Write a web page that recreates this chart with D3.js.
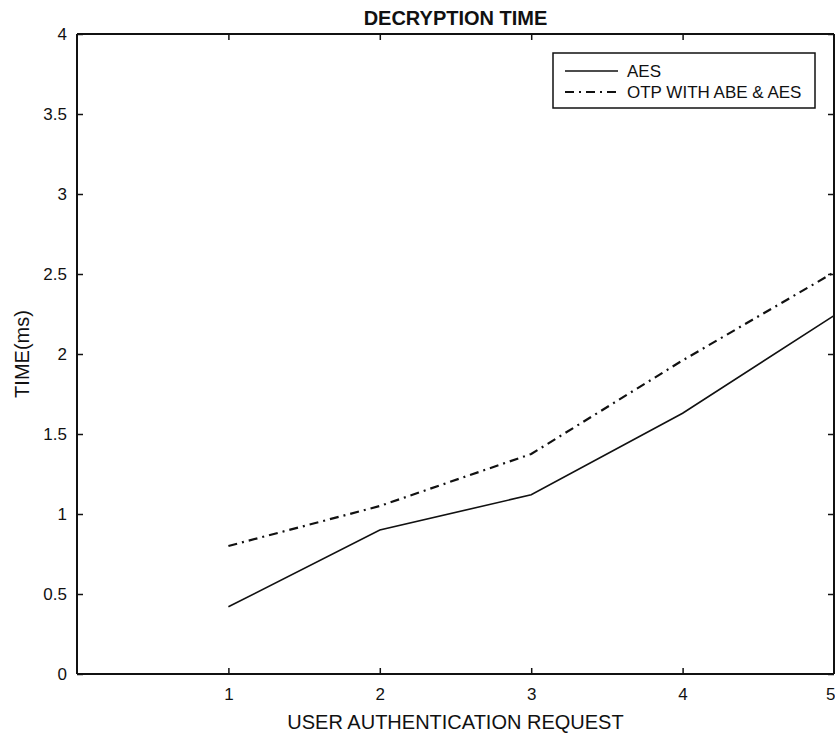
<!DOCTYPE html>
<html>
<head>
<meta charset="utf-8">
<script src="https://cdn.jsdelivr.net/npm/d3@7"></script>
<style>
  html, body { margin: 0; padding: 0; background: #fff; }
  svg { display: block; font-family: "Liberation Sans", Arial, sans-serif; }
</style>
</head>
<body>
<svg id="chart" width="835" height="738"></svg>
<script>
const requests = [1, 2, 3, 4, 5];
const aesValues = [0.42, 0.90, 1.12, 1.63, 2.24];
const otpValues = [0.80, 1.05, 1.375, 1.96, 2.51];
const seriesNames = ["AES", "OTP WITH ABE & AES"];
const xTicks = [1, 2, 3, 4, 5];
const yTicks = [0, 0.5, 1, 1.5, 2, 2.5, 3, 3.5, 4];
const titleText = "DECRYPTION TIME";
const xLabelText = "USER AUTHENTICATION REQUEST";
const yLabelText = "TIME(ms)";

(function () {
const svg = d3.select("#chart");
const L = 77, R = 834, T = 34, B = 674;
const x = d3.scaleLinear().domain([0, 5]).range([L, R]);
const y = d3.scaleLinear().domain([0, 4]).range([B, T]);

// Data lines
const line = d3.line().x((d, i) => x(requests[i])).y(d => y(d));
svg.append("path").datum(aesValues).attr("d", line)
  .attr("fill", "none").attr("stroke", "#111").attr("stroke-width", 1.6);
svg.append("path").datum(otpValues).attr("d", line)
  .attr("fill", "none").attr("stroke", "#111").attr("stroke-width", 2.2)
  .attr("stroke-dasharray", "9,5,2,5");

// Axes (inward ticks, mirrored)
const tickLen = 6;
const gBottom = svg.append("g").attr("transform", `translate(0,${B})`)
  .call(d3.axisBottom(x).tickValues(xTicks).tickSize(-tickLen).tickPadding(14).tickFormat(d3.format("d")));
const gTop = svg.append("g").attr("transform", `translate(0,${T})`)
  .call(d3.axisTop(x).tickValues(xTicks).tickSize(-tickLen).tickFormat(""));
const gLeft = svg.append("g").attr("transform", `translate(${L},0)`)
  .call(d3.axisLeft(y).tickValues(yTicks).tickSize(-tickLen).tickPadding(10).tickFormat(d3.format("")));
const gRight = svg.append("g").attr("transform", `translate(${R},0)`)
  .call(d3.axisRight(y).tickValues(yTicks).tickSize(-tickLen).tickFormat(""));

[gBottom, gTop, gLeft, gRight].forEach(g => {
  g.select(".domain").attr("stroke", "#111").attr("stroke-width", 2);
  g.selectAll(".tick line").attr("stroke", "#111").attr("stroke-width", 1.5);
  g.selectAll("text").attr("fill", "#111").attr("font-size", 17)
    .attr("font-family", "Liberation Sans, Arial, sans-serif");
});
[gBottom, gTop].forEach(g => g.select(".domain").attr("d", `M${L},0H${R}`));
[gLeft, gRight].forEach(g => g.select(".domain").attr("d", `M0,${T}V${B}`));
// keep the last x label inside the picture
gBottom.selectAll(".tick text").filter(d => d === xTicks[xTicks.length - 1])
  .attr("text-anchor", "end").attr("x", 1);

// Titles
svg.append("text").attr("x", (L + R) / 2).attr("y", 25)
  .attr("text-anchor", "middle").attr("font-size", 20).attr("font-weight", "bold")
  .attr("fill", "#111").text(titleText);
svg.append("text").attr("x", (L + R) / 2).attr("y", 729)
  .attr("text-anchor", "middle").attr("font-size", 20)
  .attr("fill", "#111").text(xLabelText);
svg.append("text").attr("transform", `translate(29,${(T + B) / 2}) rotate(-90)`)
  .attr("text-anchor", "middle").attr("font-size", 20)
  .attr("fill", "#111").text(yLabelText);

// Legend
const lg = svg.append("g");
lg.append("rect").attr("x", 553).attr("y", 53).attr("width", 262).attr("height", 55)
  .attr("fill", "#fff").attr("stroke", "#111").attr("stroke-width", 1.5);
const dashes = [null, "9,5,2,5"];
seriesNames.forEach((name, i) => {
  const yy = 71 + i * 21;
  lg.append("line").attr("x1", 565).attr("x2", 618).attr("y1", yy).attr("y2", yy)
    .attr("stroke", "#111").attr("stroke-width", i === 0 ? 1.4 : 2)
    .attr("stroke-dasharray", dashes[i]);
  lg.append("text").attr("x", 627).attr("y", yy + 6).attr("font-size", 17)
    .attr("fill", "#111").text(name);
});
})();
</script>
</body>
</html>
